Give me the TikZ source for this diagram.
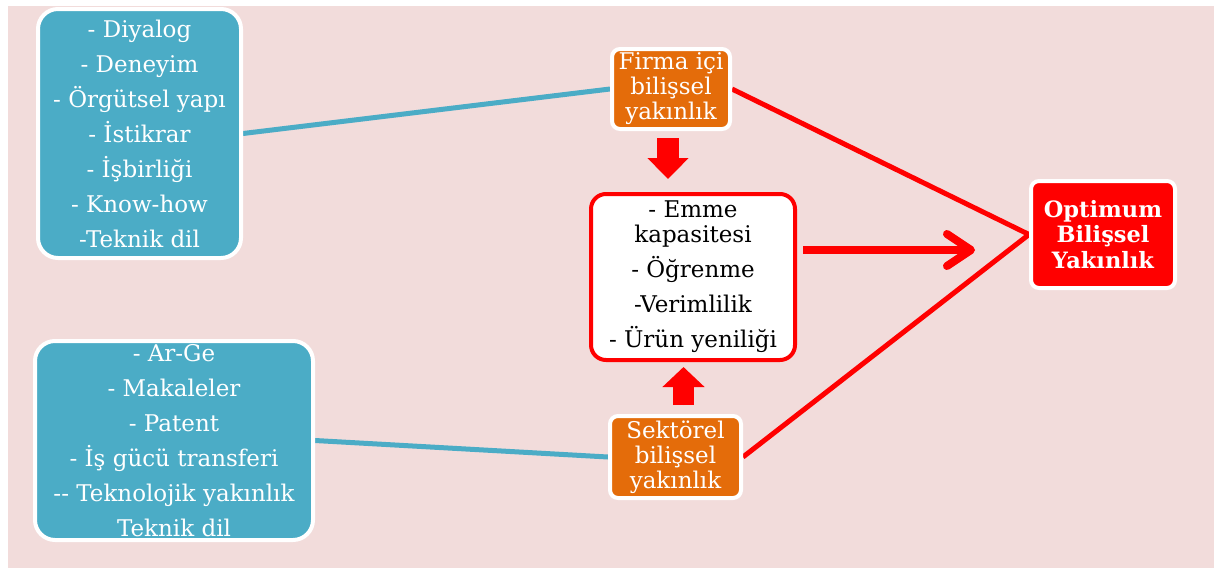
\documentclass[tikz,border=0pt]{standalone}
\usepackage{fontspec}
\setmainfont{DejaVu Serif}
\usetikzlibrary{arrows.meta,calc}

\definecolor{panelpink}{HTML}{F2DCDB}
\definecolor{tealfill}{HTML}{4BACC6}
\definecolor{orangefill}{HTML}{E46C0A}
\definecolor{strongred}{HTML}{FF0000}

\pgfdeclarelayer{backdrop}
\pgfdeclarelayer{links}
\pgfsetlayers{backdrop,links,main}

\tikzset{
  tealbox/.style={rectangle, fill=tealfill, draw=white, line width=4pt,
    rounded corners=20pt, inner sep=0pt, text=white, align=center,
    font=\fontsize{23}{35}\selectfont},
  orangebox/.style={rectangle, fill=orangefill, draw=white, line width=4pt,
    rounded corners=8pt, inner sep=0pt, text=white, align=center,
    font=\fontsize{23}{25}\selectfont},
  whitebox/.style={rectangle, fill=white, draw=strongred, line width=4pt,
    rounded corners=15pt, inner sep=0pt, text=black, align=center,
    font=\fontsize{23}{35}\selectfont},
  goalbox/.style={rectangle, fill=strongred, draw=white, line width=4pt,
    rounded corners=8pt, inner sep=0pt, text=white, align=center,
    font=\fontsize{22.5}{25.5}\selectfont\bfseries},
  tealline/.style={draw=tealfill, line width=5pt},
  redline/.style={draw=strongred, line width=5pt},
  blockarrow/.style={draw=strongred, fill=strongred, line width=22pt,
    -{Triangle[length=21pt,width=40pt]}},
}

\begin{document}
\begin{tikzpicture}[x=1pt,y=-1pt]
\useasboundingbox (0,0) rectangle (1214,568);

\begin{pgfonlayer}{backdrop}
  \fill[white] (0,0) rectangle (1214,568);
  \fill[panelpink] (8,6) rectangle (1214,568);
\end{pgfonlayer}

% factor lists
\node[tealbox, minimum width=203pt, minimum height=249pt] (boxA) at (139.5,133.5)
  {- Diyalog\\- Deneyim\\- Örgütsel yapı\\- İstikrar\\- İşbirliği\\- Know-how\\-Teknik dil};

\node[tealbox, minimum width=278pt, minimum height=199pt,
  path picture={\node[text=white, align=center, inner sep=0pt,
      font=\fontsize{23}{35}\selectfont]
      at ([yshift=-0.5pt]path picture bounding box.center)
      {- Ar-Ge\\- Makaleler\\- Patent\\- İş gücü transferi\\-{}- Teknolojik yakınlık\\Teknik dil};}]
  (boxB) at (174,440.5) {};

% proximity types
\node[orangebox, minimum width=118pt, minimum height=80pt] (firma) at (671,89)
  {Firma içi\\bilişsel\\yakınlık};
\node[orangebox, minimum width=131pt, minimum height=82pt] (sektorel) at (675.5,457)
  {Sektörel\\bilişsel\\yakınlık};

% outcomes
\node[whitebox, minimum width=204pt, minimum height=166pt] (center) at (693,277)
  {- Emme\\[-10pt]kapasitesi\\- Öğrenme\\-Verimlilik\\- Ürün yeniliği};

\node[goalbox, minimum width=144pt, minimum height=107pt] (optimum) at (1103,234.5)
  {Optimum\\Bilişsel\\Yakınlık};

% connectors behind the boxes
\begin{pgfonlayer}{links}
  \draw[tealline] (boxA.east) -- (firma.west);
  \draw[tealline] (boxB.east) -- (sektorel.west);
  \draw[redline, line join=miter] (firma.east) -- (optimum.west) -- (sektorel.east);
\end{pgfonlayer}

% block arrows into the centre box
\coordinate (da0) at ([xshift=-3pt,yshift=-7pt]firma.south);
\coordinate (cn) at ([yshift=13pt]center.north);
\draw[blockarrow] (da0) -- (da0 |- cn);

\coordinate (ua0) at ([xshift=8pt,yshift=9pt]sektorel.north);
\coordinate (cs) at ([yshift=-5pt]center.south);
\draw[blockarrow, line width=21pt, -{Triangle[length=20pt,width=41pt]}] (ua0) -- (ua0 |- cs);

% arrow towards the goal
\coordinate (rs) at ([shift={(6pt,27pt)}]center.east);
\coordinate (re0) at ([xshift=-54pt]optimum.west);
\draw[draw=strongred, line width=8pt,
  -{Straight Barb[round,length=24pt,width=32pt]}] (rs) -- (rs -| re0);

\end{tikzpicture}
\end{document}
